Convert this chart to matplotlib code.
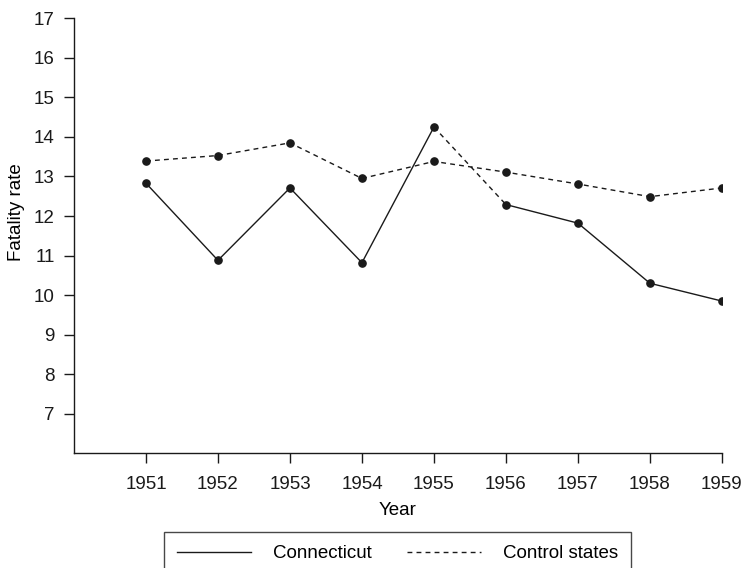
import numpy as np
import matplotlib.pyplot as plt
from matplotlib.lines import Line2D

plt.rcParams['font.family'] = ['Liberation Sans', 'DejaVu Sans']

years = [1951, 1952, 1953, 1954, 1955, 1956, 1957, 1958, 1959]
connecticut = [12.83, 10.88, 12.71, 10.82, 14.25, 12.29, 11.82, 10.30, 9.85]
control = [13.39, 13.53, 13.85, 12.95, 13.38, 13.11, 12.81, 12.49, 12.71]
y_ticks = [7, 8, 9, 10, 11, 12, 13, 14, 15, 16, 17]

fs = 13.5
dash = (3.5, 3)
ink = '#1a1a1a'

fig = plt.figure(figsize=(7.45, 5.68), dpi=100)
ax = fig.add_axes([0.0993, 0.2019, 0.8697, 0.7659])

# Connecticut: solid, but the 1955-56 segment is dashed
ax.plot(years[:5], connecticut[:5], color=ink, lw=1.0)
ax.plot(years[4:6], connecticut[4:6], color=ink, lw=1.0, ls=(0, dash))
ax.plot(years[5:], connecticut[5:], color=ink, lw=1.0)
ax.plot(years, control, color=ink, lw=1.0, ls=(0, dash))

ax.plot(years, connecticut, 'o', color=ink, ms=5.2, zorder=3)
ax.plot(years, control, 'o', color=ink, ms=5.2, zorder=3)

ax.set_xlim(1950, 1959)
ax.set_ylim(6, 17)
ax.set_xticks(years)
ax.set_yticks(y_ticks)
ax.tick_params(axis='x', length=7, width=1, pad=9.5, labelsize=fs, colors=ink)
ax.tick_params(axis='y', length=7, width=1, pad=7, labelsize=fs, colors=ink)

for s in ['top', 'right']:
    ax.spines[s].set_visible(False)
for s in ['left', 'bottom']:
    ax.spines[s].set_linewidth(1.0)
    ax.spines[s].set_color(ink)

ax.set_xlabel('Year', fontsize=fs, labelpad=6)
ax.set_ylabel('Fatality rate', fontsize=fs)
ax.yaxis.set_label_coords(-0.076, 0.555)

handles = [Line2D([], [], color=ink, lw=1.0),
           Line2D([], [], color=ink, lw=1.0, ls=(0, dash))]
leg = fig.legend(handles, ['Connecticut', 'Control states'], ncol=2,
                 loc='upper center', bbox_to_anchor=(0.534, 0.0637),
                 fontsize=fs, frameon=True, fancybox=False,
                 handlelength=3.9, handletextpad=1.2, columnspacing=1.9,
                 borderpad=0.7, borderaxespad=0)
leg.get_frame().set_edgecolor(ink)
leg.get_frame().set_linewidth(1.0)

fig.savefig('out.png', dpi=100)
